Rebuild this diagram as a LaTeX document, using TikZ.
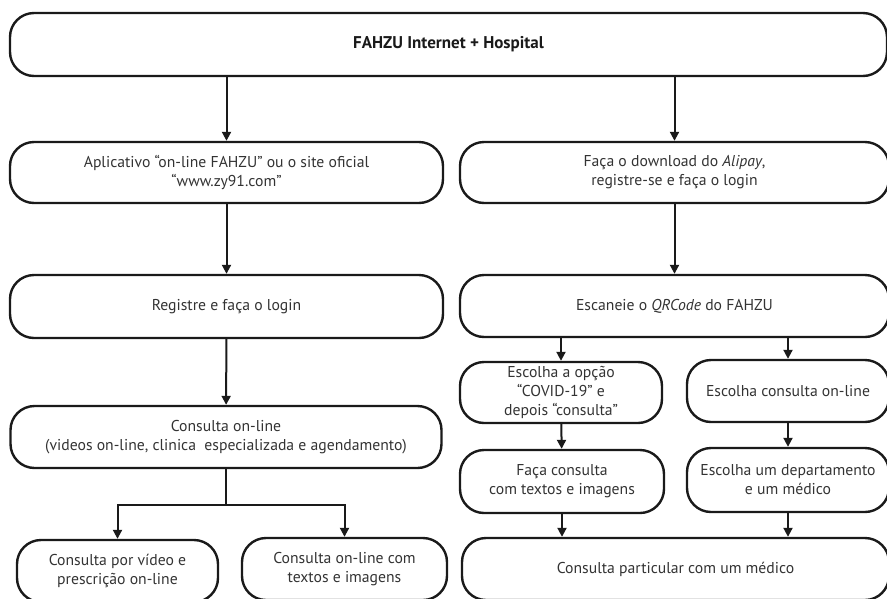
\documentclass[tikz,border=0pt]{standalone}
\usepackage{fontspec}
\setmainfont{PT Sans}
\usepackage{tikz}
\usetikzlibrary{arrows.meta,positioning}
\definecolor{ink}{HTML}{1A1A1A}
\definecolor{txt}{HTML}{333333}

\begin{document}
\begin{tikzpicture}[x=1pt,y=-1pt,
    flowbox/.style={draw=ink,line width=2.4pt,rounded corners=24pt,align=center,text=txt,inner sep=0pt,
      font=\fontsize{15.7}{19}\selectfont},
    arr/.style={draw=ink,line width=2pt,-{Triangle[width=9pt,length=9pt]}}]
  \useasboundingbox (0,0) rectangle (887,598);
  % top
  \node[flowbox,minimum width=877pt,minimum height=63pt,text=ink,font=\fontsize{17}{19}\selectfont\bfseries] (hosp) at (448.5,44.5) {FAHZU Internet + Hospital};
  % left column
  \node[flowbox,minimum width=433pt,minimum height=61pt] (app) at (226.5,172.5) {Aplicativo “on-line FAHZU” ou o site oficial\\“www.zy91.com”};
  \node[flowbox,minimum width=433pt,minimum height=63pt] (reg) at (226.5,306.5) {Registre e faça o login};
  \node[flowbox,minimum width=431pt,minimum height=62pt] (cons) at (226,437) {Consulta on-line\\(videos on-line, clinica~ especializada e agendamento)};
  \node[flowbox,minimum width=201pt,minimum height=62pt] (video) at (117.5,571) {Consulta por vídeo e\\prescrição on-line};
  \node[flowbox,minimum width=205pt,minimum height=62pt] (texto) at (344.5,569) {Consulta on-line com\\textos e imagens};
  % right column
  \node[flowbox,minimum width=429pt,minimum height=61pt] (alipay) at (674.5,172.5) {Faça o download do \textit{Alipay},\\registre-se e faça o login};
  \node[flowbox,minimum width=429pt,minimum height=62pt] (scan) at (674.5,306) {Escaneie o \textit{QRCode} do FAHZU};
  \node[flowbox,minimum width=202pt,minimum height=61pt] (covid) at (561,392.5) {Escolha a opção\\“COVID-19” e\\depois “consulta”};
  \node[flowbox,minimum width=202pt,minimum height=62pt] (online) at (788,391) {Escolha consulta on-line};
  \node[flowbox,minimum width=204pt,minimum height=63pt] (faca) at (562,481.5) {Faça consulta\\com textos e imagens};
  \node[flowbox,minimum width=202pt,minimum height=64pt] (depto) at (788,480) {Escolha um departamento\\e um médico};
  \node[flowbox,minimum width=427pt,minimum height=62pt] (partic) at (675.5,569) {Consulta particular com um médico};

  % arrows
  \draw[arr] (hosp.south -| app) -- (app);
  \draw[arr] (hosp.south -| alipay) -- (alipay);
  \draw[arr] (app) -- (reg);
  \draw[arr] (alipay) -- (scan);
  \draw[arr] (reg) -- (cons);
  \coordinate (split) at (226,505);
  \draw[draw=ink,line width=2pt] (cons) -- (split);
  \draw[arr] (split) -| (video.north);
  \draw[arr] (split) -| (texto.north);
  \draw[arr] (scan.south -| covid) -- (covid);
  \draw[arr] (scan.south -| online) -- (online);
  \draw[arr] (covid) -- (faca);
  \draw[arr] (online) -- (depto);
  \draw[arr] (faca) -- (faca |- partic.north);
  \draw[arr] (depto) -- (depto |- partic.north);
\end{tikzpicture}
\end{document}
